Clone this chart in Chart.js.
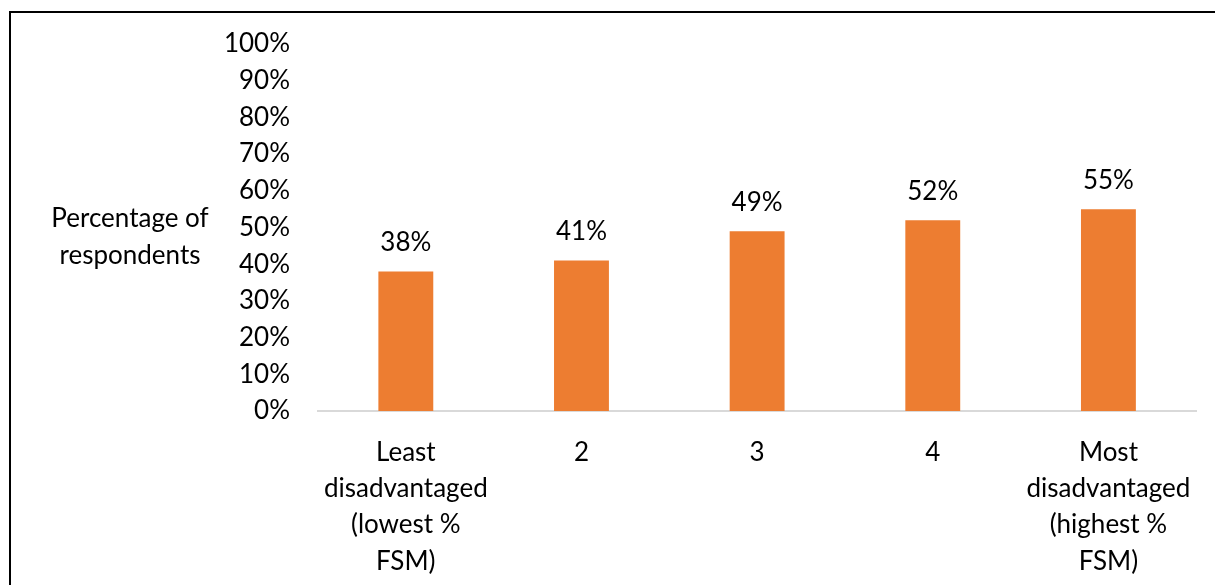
<!DOCTYPE html>
<html lang="en">
<head>
    <meta charset="UTF-8">
    <title>Percentage of respondents by FSM group</title>
    <script src="https://cdn.jsdelivr.net/npm/chart.js"></script>
    <style>
        body { margin: 0; background: #fff; }
        .moldura {
            position: absolute; left: 9px; top: 11px; width: 1215px; height: 585px;
            border-top: 2px solid #000; border-left: 2px solid #000;
        }
        .grafico { position: absolute; left: 0; top: 0; width: 1215px; height: 585px; }
    </style>
</head>
<body>
    <div class="moldura"></div>
    <div class="grafico">
        <canvas id="myChart"></canvas>
    </div>

<script>
    // categorias e valores
    const categorias = [
        ['Least', 'disadvantaged', '(lowest %', 'FSM)'],
        '2',
        '3',
        '4',
        ['Most', 'disadvantaged', '(highest %', 'FSM)']
    ];
    const percentuais = [38, 41, 49, 52, 55];
    const ticksY = [0, 10, 20, 30, 40, 50, 60, 70, 80, 90, 100];
    const tituloY = ['Percentage of', 'respondents'];

    const fonte = 'Lato, "Open Sans", sans-serif';

    // rotulos em cima das barras + titulo do eixo na horizontal
    const rotulos = {
        id: 'rotulos',
        afterDatasetsDraw(chart) {
            const ctx = chart.ctx;
            ctx.save();
            ctx.font = '26px ' + fonte;
            ctx.fillStyle = '#000';
            ctx.textAlign = 'center';
            ctx.textBaseline = 'bottom';
            chart.getDatasetMeta(0).data.forEach(function (barra, i) {
                ctx.fillText(percentuais[i] + '%', barra.x, barra.y - 16);
            });
            ctx.textBaseline = 'middle';
            ctx.fillText(tituloY[0], 130, 219);
            ctx.fillText(tituloY[1], 130, 256);
            ctx.restore();
        }
    };

    const config = {
        type: 'bar',
        data: {
            labels: categorias,
            datasets: [{
                label: 'Percentage of respondents',
                data: percentuais,
                backgroundColor: '#ED7D31',
                borderWidth: 0,
                barPercentage: 0.3125,
                categoryPercentage: 1
            }]
        },
        options: {
            responsive: false,
            animation: false,
            layout: { padding: { left: 0, right: 17, top: 44, bottom: 0 } },
            plugins: {
                legend: { display: false },
                tooltip: { enabled: false }
            },
            scales: {
                x: {
                    grid: { display: false, drawTicks: false },
                    border: { color: '#d9d9d9', width: 2 },
                    ticks: {
                        color: '#000',
                        font: { family: fonte, size: 26, lineHeight: 1.4 },
                        padding: 23,
                        maxRotation: 0,
                        autoSkip: false
                    },
                    afterFit: function (escala) { escala.height = 174; }
                },
                y: {
                    min: 0,
                    max: 100,
                    afterBuildTicks: function (escala) {
                        escala.ticks = ticksY.map(function (v) { return { value: v }; });
                    },
                    grid: { display: false, drawTicks: false },
                    border: { display: false },
                    ticks: {
                        color: '#000',
                        font: { family: fonte, size: 26 },
                        padding: 28,
                        callback: function (v) { return v + '%'; }
                    },
                    afterFit: function (escala) { escala.width = 318; }
                }
            }
        },
        plugins: [rotulos]
    };

    const canvas = document.getElementById('myChart');
    canvas.width = 1215;
    canvas.height = 585;
    let myChart = new Chart(canvas, config);
</script>
</body>
</html>
